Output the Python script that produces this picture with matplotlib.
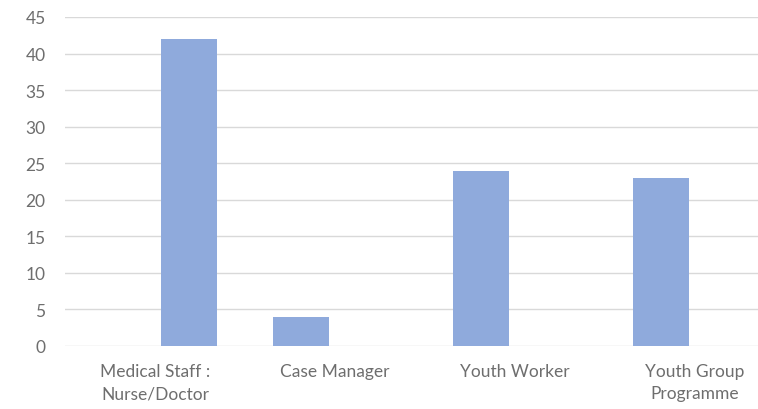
import matplotlib
matplotlib.use('Agg')
import matplotlib.pyplot as plt
import numpy as np

FONT = 'Lato'
BAR = '#8FAADC'
GRID = '#D9D9D9'
TEXT = '#6E6E6E'

categories = ['Medical Staff :\nNurse/Doctor', 'Case Manager', 'Youth Worker', 'Youth Group\nProgramme']
series_a = [0, 4, 24, 23]
series_b = [42, 0, 0, 0]
y_ticks = [0, 5, 10, 15, 20, 25, 30, 35, 40, 45]

plt.rcParams['font.family'] = FONT

fig = plt.figure(figsize=(7.58, 4.10), dpi=100)
fig.patch.set_facecolor('white')
# plot area runs past the right edge, as in the reference crop
ax = fig.add_axes([65 / 758, 63 / 410, 720 / 758, 329 / 410])

x = np.arange(len(categories))
w = 0.31
off = 0.19
ax.bar(x - off, series_a, width=w, color=BAR, linewidth=0, zorder=3)
ax.bar(x + off, series_b, width=w, color=BAR, linewidth=0, zorder=3)

ax.set_xlim(-0.5, len(categories) - 0.5)
ax.set_ylim(0, 45)
ax.set_yticks(y_ticks)
ax.set_xticks(x)
ax.set_xticklabels(categories, linespacing=1.5)

ax.grid(axis='y', color=GRID, linewidth=1, zorder=0)
ax.set_axisbelow(True)
for s in ax.spines.values():
    s.set_visible(False)
ax.tick_params(axis='both', length=0, colors=TEXT, labelsize=12.5)
ax.tick_params(axis='y', pad=14)
ax.tick_params(axis='x', pad=12)

fig.savefig('out.png', dpi=100)
